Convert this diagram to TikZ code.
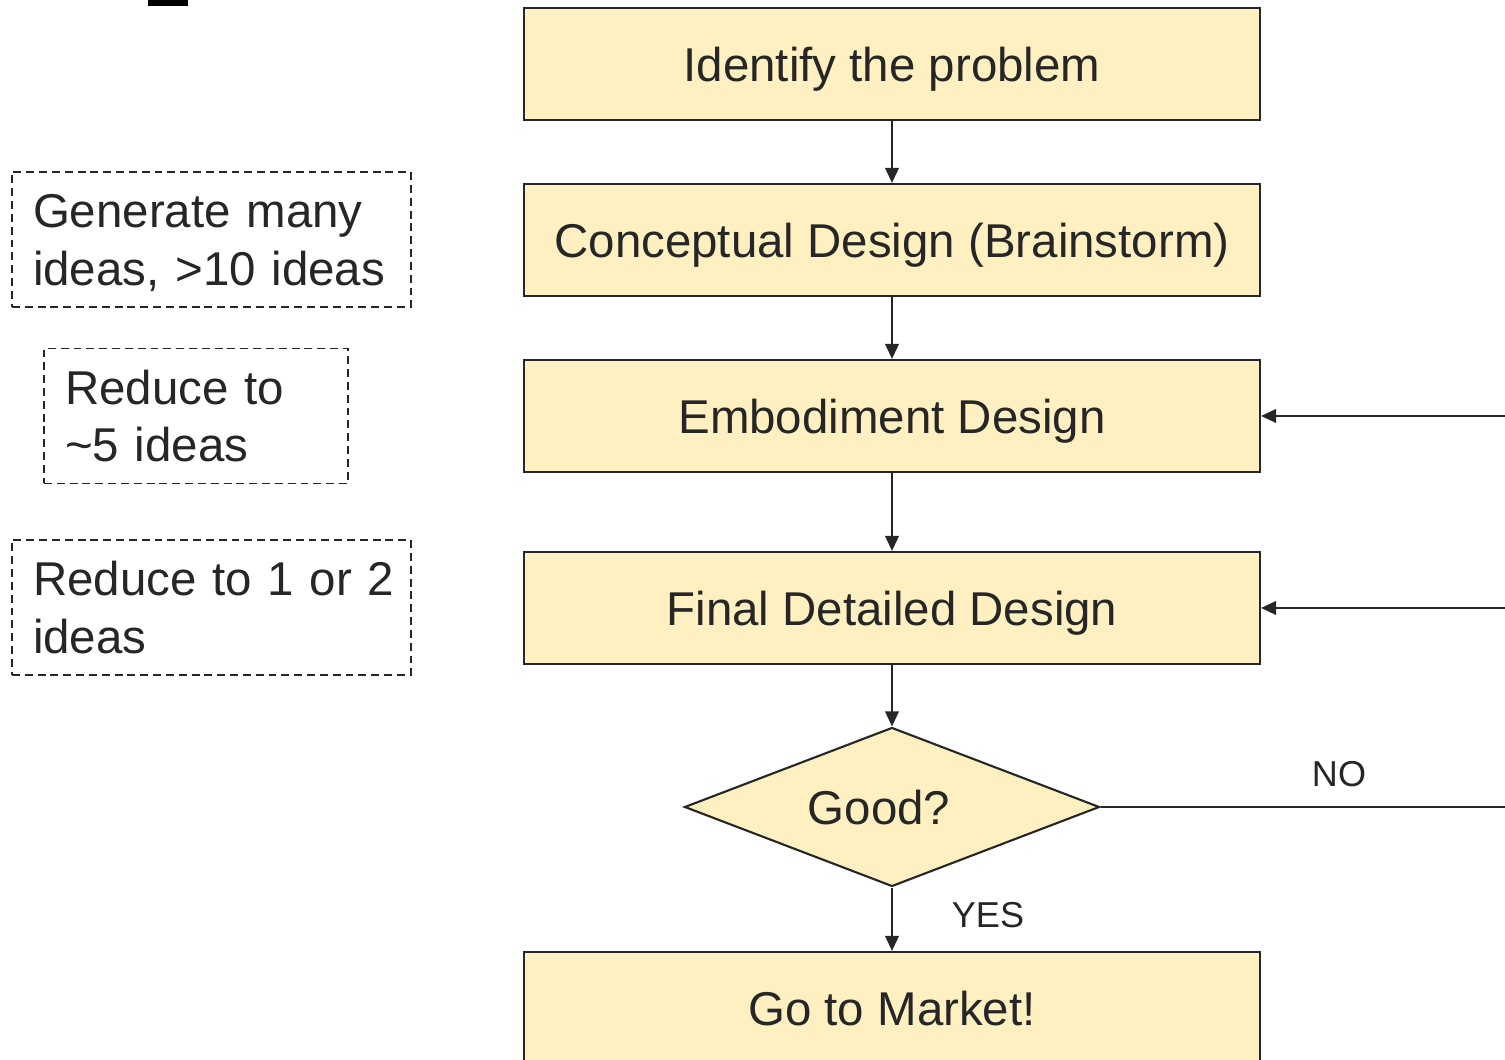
\documentclass[tikz,border=0pt]{standalone}
\usepackage{fontspec}
\setmainfont{Liberation Sans}
\usetikzlibrary{shapes.geometric,arrows.meta}
\definecolor{boxfill}{RGB}{255,240,193}
\definecolor{ink}{RGB}{38,38,38}

\begin{document}
\begin{tikzpicture}[
    stepbox/.style={rectangle,draw=ink,fill=boxfill,line width=1.2pt,minimum width=14.72cm,minimum height=2.24cm,inner sep=0pt,text height=19.4pt,text depth=0pt,font=\fontsize{27}{31}\selectfont,text=ink},
    decision/.style={diamond,draw=ink,fill=boxfill,line width=1.2pt,shape aspect=2.6,minimum width=8.3cm,minimum height=3.18cm,inner sep=0pt,text height=19.4pt,text depth=0pt,font=\fontsize{27}{31}\selectfont,text=ink},
    note/.style={rectangle,draw=ink,line width=0.9pt,dash pattern=on 4.5pt off 2.8pt,align=left,inner xsep=0.42cm,minimum height=2.7cm,text height=19.4pt,text depth=32.6pt,font=\fontsize{27}{32.6}\selectfont,text=ink},
    flow/.style={draw=ink,line width=1.2pt,-{Triangle[length=0.3cm,width=0.27cm]}},
    plain/.style={draw=ink,line width=1.2pt},
    tag/.style={inner sep=0pt,font=\fontsize{20.5}{24}\selectfont,text=ink}
]
    % frame of the page
    \useasboundingbox (0,0) rectangle (30.1,21.2);
    \fill[black] (2.96,21.08) rectangle (3.76,21.4);

    % main steps of the design process
    \node[stepbox] (problem) at (17.84,19.92) {Identify the problem};
    \node[stepbox] (concept) at (17.84,16.40) {Conceptual Design (Brainstorm)};
    \node[stepbox] (embodiment) at (17.84,12.88) {Embodiment Design};
    \node[stepbox] (detail) at (17.84,9.04) {Final Detailed Design};
    \node[decision] (good) at (17.84,5.06) {Good?\kern0.52cm};
    \node[stepbox] (market) at (17.84,1.04) {Go to Market!};

    % notes on the left
    \node[note,text width=7.14cm] (many) at (4.23,16.41) {Generate many\\ideas, >10 ideas};
    \node[note,text width=5.24cm] (five) at (3.92,12.88) {Reduce to\\\textasciitilde5 ideas};
    \node[note,text width=7.14cm] (few) at (4.23,9.05) {\mbox{Reduce to 1 or 2}\\ideas};

    % loose ends at the right edge
    \coordinate (embback) at (30.1,12.88);
    \coordinate (detback) at (30.1,9.04);
    \coordinate (noout) at (30.1,5.06);

    \node[tag] (yes) at (19.76,2.90) {YES};
    \node[tag] (no) at (26.78,5.72) {NO};

    \draw[flow] (problem) -- (concept);
    \draw[flow] (concept) -- (embodiment);
    \draw[flow] (embodiment) -- (detail);
    \draw[flow] (detail) -- (good);
    \draw[flow] (good) -- (market);
    \draw[plain] (good) -- (noout);
    \draw[flow] (embback) -- (embodiment);
    \draw[flow] (detback) -- (detail);
\end{tikzpicture}
\end{document}
